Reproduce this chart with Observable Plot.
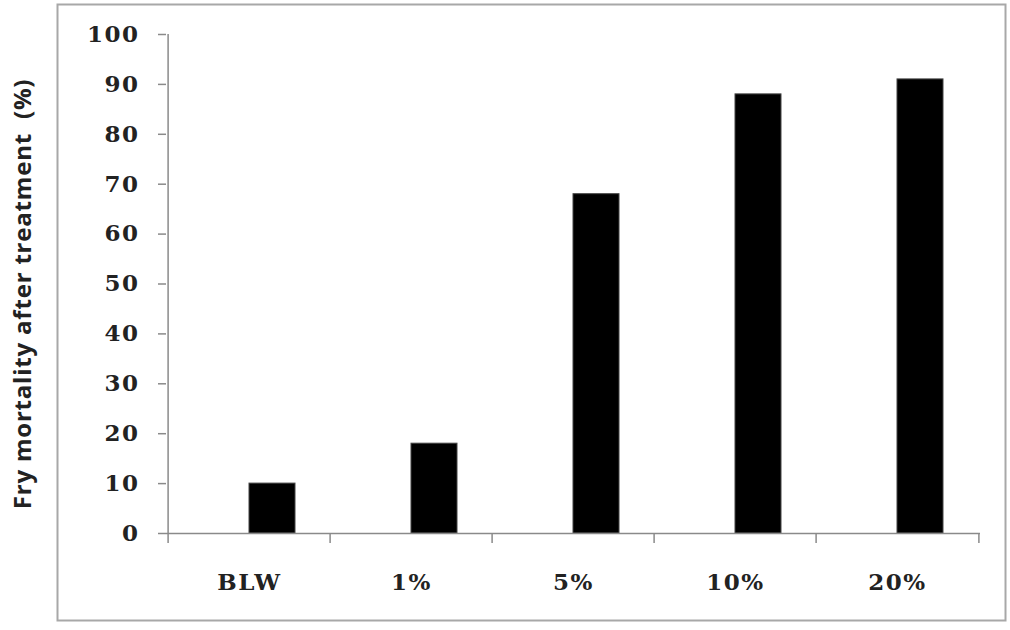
<!DOCTYPE html>
<html>
<head>
<meta charset="utf-8">
<script src="https://cdn.jsdelivr.net/npm/d3@7"></script>
<script src="https://cdn.jsdelivr.net/npm/@observablehq/plot@0.6"></script>
<style>
  html, body { margin: 0; padding: 0; background: #fff; }
  #chart svg { display: block; }
  #chart g[aria-label="y-axis tick label"] text,
  #chart g[aria-label="x-axis tick label"] text { letter-spacing: 1.5px; }
  #chart g[aria-label="text"] text { letter-spacing: 0.8px; }
</style>
</head>
<body>
<div id="chart"></div>
<script>
const categories = ["BLW", "1%", "5%", "10%", "20%"];
const mortality = [10, 18, 68, 88, 91];
const yTicks = [0, 10, 20, 30, 40, 50, 60, 70, 80, 90, 100];
const yLabel = "Fry mortality after treatment  (%)";

const data = categories.map((c, i) => ({category: c, value: mortality[i]}));

const W = 1010, H = 630;
const mL = 166, mR = 30, mT = 34, mB = 97;
const bw = (W - mL - mR) / categories.length;
const serif = "'DejaVu Serif', serif";

const chart = Plot.plot({
  width: W,
  height: H,
  marginLeft: mL,
  marginRight: mR,
  marginTop: mT,
  marginBottom: mB,
  style: {background: "#fff", overflow: "visible"},
  x: {domain: categories, padding: 0, axis: null},
  y: {domain: [0, 100], axis: null},
  marks: [
    Plot.frame({stroke: "#a8a8a8", strokeWidth: 2, insetLeft: -109, insetTop: -30, insetRight: -25, insetBottom: -87}),
    Plot.barY(data, {x: "category", y: "value", fill: "#000", stroke: "#444", strokeWidth: 1, insetLeft: 81, insetRight: 35}),
    // y axis line
    Plot.ruleX([categories[0]], {dx: -bw / 2, y1: 0, y2: 100, stroke: "#8a8a8a", strokeWidth: 1.5, strokeOpacity: 1}),
    // x axis line
    Plot.ruleY([0], {stroke: "#8a8a8a", strokeWidth: 1.5, strokeOpacity: 1}),
    // x boundary ticks
    Plot.ruleX(categories, {dx: -bw / 2, y1: 0, y2: -2, stroke: "#8a8a8a", strokeWidth: 1.5, strokeOpacity: 1}),
    Plot.ruleX([categories[categories.length - 1]], {dx: bw / 2, y1: 0, y2: -2, stroke: "#8a8a8a", strokeWidth: 1.5, strokeOpacity: 1}),
    Plot.axisY({ticks: yTicks, tickSize: 8, tickPadding: 19, stroke: "#8a8a8a", strokeWidth: 1.5, strokeOpacity: 1, label: null,
      fill: "#222", fontSize: 23, fontWeight: "bold", fontFamily: serif}),
    Plot.axisX({tickSize: 0, tickPadding: 0, dy: 40, label: null, fill: "#222", fontSize: 23, fontWeight: "bold", fontFamily: serif}),
    Plot.text([yLabel], {frameAnchor: "left", textAnchor: "middle", lineAnchor: "middle", rotate: -90, dx: -143, dy: 10, fontSize: 24, fontWeight: "bold",
      fontFamily: "'Open Sans', sans-serif", fill: "#222"})
  ]
});
document.getElementById("chart").appendChild(chart);
</script>
</body>
</html>
